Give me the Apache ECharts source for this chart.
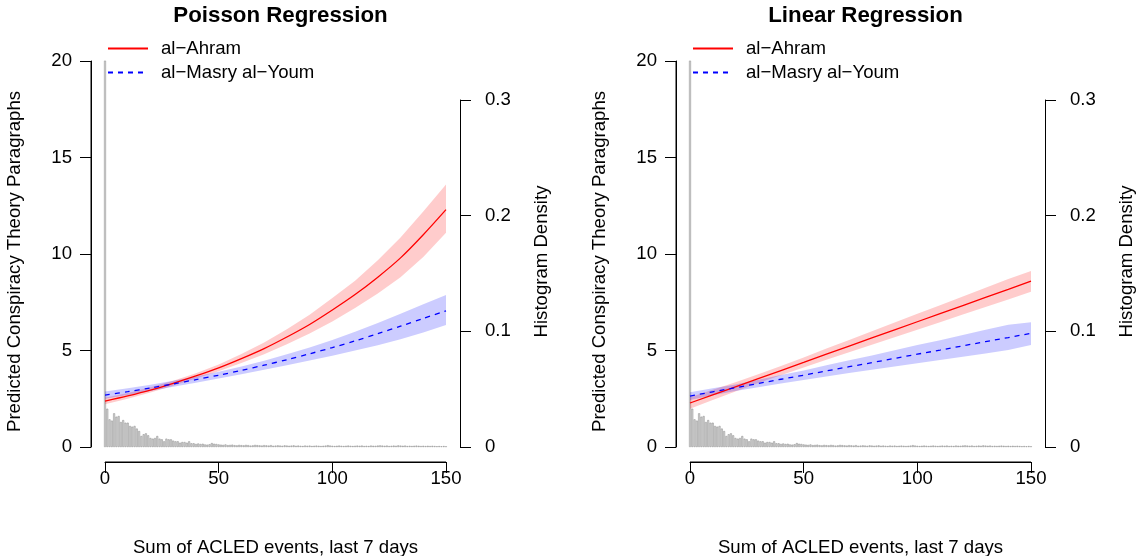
<!DOCTYPE html>
<html>
<head>
<meta charset="utf-8">
<script src="https://cdn.jsdelivr.net/npm/echarts@6/dist/echarts.min.js"></script>
<style>
html,body{margin:0;padding:0;background:#fff;}
#c{width:1143px;height:556px;}
</style>
</head>
<body>
<div id="c"></div>
<script>
// ---------------- data ----------------
const panelTitles = ['Poisson Regression', 'Linear Regression'];
const seriesNames = ['al\u2212Ahram', 'al\u2212Masry al\u2212Youm'];
const xTitle = 'Sum of ACLED events, last 7 days';
const yTitleLeft = 'Predicted Conspiracy Theory Paragraphs';
const yTitleRight = 'Histogram Density';

const xs = [0, 10, 20, 30, 40, 50, 60, 70, 80, 90, 100, 110, 120, 130, 140, 150];

// Poisson regression
const poisAhramMean = [2.38, 2.65, 2.95, 3.30, 3.68, 4.10, 4.58, 5.10, 5.70, 6.35, 7.10, 7.90, 8.80, 9.80, 11.0, 12.3];
const poisAhramLo   = [2.22, 2.50, 2.82, 3.18, 3.55, 3.93, 4.35, 4.80, 5.32, 5.88, 6.50, 7.20, 7.95, 8.80, 9.85, 11.1];
const poisAhramHi   = [2.55, 2.80, 3.09, 3.43, 3.82, 4.28, 4.82, 5.42, 6.10, 6.85, 7.72, 8.62, 9.68, 10.85, 12.2, 13.6];
const poisMasryMean = [2.69, 2.87, 3.06, 3.27, 3.49, 3.72, 3.97, 4.24, 4.52, 4.83, 5.15, 5.50, 5.87, 6.26, 6.66, 7.05];
const poisMasryLo   = [2.50, 2.70, 2.90, 3.12, 3.33, 3.55, 3.77, 4.00, 4.24, 4.48, 4.73, 5.00, 5.27, 5.58, 5.93, 6.32];
const poisMasryHi   = [2.88, 3.05, 3.23, 3.43, 3.65, 3.90, 4.17, 4.47, 4.80, 5.16, 5.55, 5.97, 6.42, 6.90, 7.40, 7.87];

// Linear regression
const linAhramMean = [2.28, 2.70, 3.12, 3.54, 3.96, 4.38, 4.81, 5.23, 5.65, 6.07, 6.49, 6.91, 7.33, 7.75, 8.17, 8.60];
const linAhramLo   = [1.98, 2.43, 2.88, 3.31, 3.72, 4.12, 4.52, 4.91, 5.30, 5.69, 6.08, 6.47, 6.86, 7.25, 7.64, 8.05];
const linAhramHi   = [2.58, 2.97, 3.36, 3.77, 4.20, 4.64, 5.10, 5.55, 6.00, 6.45, 6.90, 7.35, 7.80, 8.25, 8.70, 9.12];
const linMasryMean = [2.64, 2.86, 3.07, 3.29, 3.51, 3.72, 3.94, 4.16, 4.37, 4.59, 4.81, 5.02, 5.24, 5.46, 5.67, 5.89];
const linMasryLo   = [2.44, 2.68, 2.90, 3.10, 3.29, 3.47, 3.65, 3.83, 4.00, 4.17, 4.34, 4.51, 4.68, 4.85, 5.02, 5.28];
const linMasryHi   = [2.84, 3.04, 3.24, 3.48, 3.73, 3.97, 4.23, 4.49, 4.74, 5.01, 5.28, 5.53, 5.80, 6.07, 6.33, 6.46];

// histogram density of the events variable, bins 0..150
const histDensity = [
  0.334, 0.0331, 0.0239, 0.0228, 0.0291, 0.0262, 0.0268, 0.0216, 0.0233, 0.0210,
  0.0210, 0.0182, 0.0176, 0.0182, 0.0159, 0.0138, 0.0095, 0.0110, 0.0118, 0.0101,
  0.0078, 0.0072, 0.0078, 0.0095, 0.0072, 0.0066, 0.0049, 0.0072, 0.0066, 0.0066,
  0.0055, 0.0049, 0.0049, 0.0037, 0.0043, 0.0043, 0.0037, 0.0049, 0.0032, 0.0032,
  0.0026, 0.0030, 0.0026, 0.0028, 0.0022, 0.0020, 0.0024, 0.0034, 0.0028, 0.0026,
  0.0022, 0.0020, 0.0018, 0.0022, 0.0016, 0.0018, 0.0020, 0.0016, 0.0014, 0.0018,
  0.0016, 0.0014, 0.0018, 0.0016, 0.0012, 0.0014, 0.0018, 0.0016, 0.0014, 0.0012,
  0.0016, 0.0014, 0.0012, 0.0016, 0.0010, 0.0012, 0.0014, 0.0012, 0.0010, 0.0014,
  0.0012, 0.0010, 0.0012, 0.0014, 0.0010, 0.0012, 0.0010, 0.0008, 0.0012, 0.0010,
  0.0012, 0.0008, 0.0010, 0.0012, 0.0010, 0.0008, 0.0010, 0.0012, 0.0016, 0.0012,
  0.0010, 0.0008, 0.0010, 0.0012, 0.0010, 0.0008, 0.0010, 0.0012, 0.0010, 0.0008,
  0.0010, 0.0012, 0.0010, 0.0012, 0.0008, 0.0010, 0.0008, 0.0012, 0.0010, 0.0010,
  0.0012, 0.0014, 0.0012, 0.0010, 0.0012, 0.0008, 0.0010, 0.0012, 0.0010, 0.0014,
  0.0012, 0.0010, 0.0012, 0.0008, 0.0010, 0.0008, 0.0010, 0.0012, 0.0010, 0.0008,
  0.0010, 0.0008, 0.0010, 0.0008, 0.0010, 0.0008, 0.0006, 0.0008, 0.0006, 0.0008,
  0.0006
];

const xRange = [0, 150];
const yRangeLeft = [0, 20];
const yRangeRight = [0, 0.3];

// ---------------- chart ----------------
const FONT = '"Liberation Sans", Arial, Helvetica, sans-serif';
const FS = 18.6;
const RED = '#FF0000', BLUE = '#0000FF';
const chart = echarts.init(document.getElementById('c'), null, {renderer: 'canvas'});

const panelLeft = [105, 690];
const plotW = 341;
const topA = 61, hA = 386;   // 20 -> 61px, 0 -> 447px
const topB = 100, hB = 347;  // 0.3 -> 100px, 0 -> 447px
const pad = 14;              // R's 4% axis extension, in px

const grids = [], xAxes = [], yAxes = [], series = [], titles = [], legends = [];
const lineSt = () => ({color: '#000', width: 1});
const labelStyle = {color: '#000', fontSize: FS, fontFamily: FONT};
const hiddenValue = (g, mn, mx) => ({
  gridIndex: g, type: 'value', min: mn, max: mx,
  axisLine: {show: false, onZero: false}, axisTick: {show: false}, axisLabel: {show: false}, splitLine: {show: false}
});
const nameOnly = (g, pos, name, gap, rot) => Object.assign(hiddenValue(g, 0, 1), {
  position: pos, name: name, nameLocation: 'middle', nameGap: gap, nameRotate: rot, nameTextStyle: labelStyle
});

const panels = [
  {mean: [poisAhramMean, poisMasryMean], lo: [poisAhramLo, poisMasryLo], hi: [poisAhramHi, poisMasryHi]},
  {mean: [linAhramMean, linMasryMean], lo: [linAhramLo, linMasryLo], hi: [linAhramHi, linMasryHi]}
];

function bandSeries(xIdx, yIdx, lo, hi, color) {
  return {
    type: 'custom', xAxisIndex: xIdx, yAxisIndex: yIdx, z: 2, silent: true,
    data: xs.map((x, i) => [x, lo[i], hi[i]]),
    encode: {x: 0, y: [1, 2]},
    renderItem: function (params, api) {
      if (params.dataIndex !== 0) return null;
      const upper = xs.map((x, i) => api.coord([x, hi[i]]));
      const lower = xs.map((x, i) => api.coord([x, lo[i]])).reverse();
      return {type: 'polygon', shape: {points: upper.concat(lower)}, style: {fill: color}};
    }
  };
}

// axis line drawn along the tick range of an axis (R style)
function axisLineSeries(xIdx, yIdx, pts) {
  return {
    type: 'line', xAxisIndex: xIdx, yAxisIndex: yIdx, z: 10, silent: true, clip: false,
    symbol: 'none', lineStyle: {color: '#000', width: 1}, data: pts
  };
}

panels.forEach((p, k) => {
  const L = panelLeft[k];
  const g0 = grids.length;
  // g0 main plot, g1 histogram, g2 x axis, g3 left y axis, g4 right y axis, g5 axis titles
  grids.push({left: L, top: topA, width: plotW, height: hA});
  grids.push({left: L, top: topB, width: plotW, height: hB});
  grids.push({left: L, top: topA, width: plotW, height: hA + pad + 1});
  grids.push({left: L - pad, top: topA, width: plotW + pad, height: hA});
  grids.push({left: L, top: topB, width: plotW + pad, height: hB});
  grids.push({left: L - pad, top: topA, width: plotW + 2 * pad, height: hA + pad + 1, outerBoundsMode: 'none'});

  const xi = xAxes.length, yi = yAxes.length;
  // main
  xAxes.push(hiddenValue(g0, xRange[0], xRange[1]));
  yAxes.push(hiddenValue(g0, yRangeLeft[0], yRangeLeft[1]));
  // histogram
  xAxes.push(hiddenValue(g0 + 1, xRange[0], xRange[1]));
  yAxes.push(hiddenValue(g0 + 1, yRangeRight[0], yRangeRight[1]));
  // visible x axis
  xAxes.push({
    gridIndex: g0 + 2, type: 'value', min: xRange[0], max: xRange[1], interval: 50, position: 'bottom', z: 10,
    axisLine: {show: true, onZero: false, lineStyle: lineSt()},
    axisTick: {show: true, length: 11, lineStyle: lineSt()},
    axisLabel: Object.assign({margin: 7}, labelStyle),
    splitLine: {show: false}
  });
  yAxes.push(hiddenValue(g0 + 2, 0, 1));
  // visible left y axis
  xAxes.push(hiddenValue(g0 + 3, 0, 1));
  yAxes.push({
    gridIndex: g0 + 3, type: 'value', min: yRangeLeft[0], max: yRangeLeft[1], interval: 5, position: 'left', z: 10,
    axisLine: {show: true, onZero: false, lineStyle: lineSt()},
    axisTick: {show: true, length: 11, lineStyle: lineSt()},
    axisLabel: Object.assign({margin: 19}, labelStyle),
    splitLine: {show: false}
  });
  // visible right y axis
  xAxes.push(hiddenValue(g0 + 4, 0, 1));
  yAxes.push({
    gridIndex: g0 + 4, type: 'value', min: yRangeRight[0], max: yRangeRight[1], interval: 0.1, position: 'right', z: 10,
    axisLine: {show: true, onZero: false, lineStyle: lineSt()},
    axisTick: {show: true, length: 11, lineStyle: lineSt()},
    axisLabel: Object.assign({margin: 25}, labelStyle),
    splitLine: {show: false}
  });
  // axis titles
  xAxes.push(nameOnly(g0 + 5, 'bottom', xTitle, 76, 0));
  yAxes.push(nameOnly(g0 + 5, 'left', yTitleLeft, 67, 90));
  yAxes.push(nameOnly(g0 + 5, 'right', yTitleRight, 72, 90));

  // explicit axis lines over the tick ranges
  series.push(axisLineSeries(xi + 2, yi + 2, [[xRange[0], 0], [xRange[1], 0]]));
  series.push(axisLineSeries(xi + 3, yi + 3, [[0, yRangeLeft[0]], [0, yRangeLeft[1]]]));

  // histogram
  series.push({
    type: 'bar', xAxisIndex: xi + 1, yAxisIndex: yi + 1, z: 1, clip: false, silent: true,
    barWidth: plotW / 150 * 0.85,
    itemStyle: {color: '#D6D6D6', borderColor: '#8A8A8A', borderWidth: 0.5},
    data: histDensity.map((d, i) => [i, d])
  });

  const bandColors = ['rgba(255,0,0,0.2)', 'rgba(0,0,255,0.2)'];
  const lineColors = [RED, BLUE];
  const lineTypes = ['solid', [5, 5]];
  [0, 1].forEach(s => {
    series.push(bandSeries(xi, yi, p.lo[s], p.hi[s], bandColors[s]));
  });
  [0, 1].forEach(s => {
    series.push({
      name: seriesNames[s],
      type: 'line', xAxisIndex: xi, yAxisIndex: yi, z: 3, silent: true,
      symbol: 'none', smooth: k === 0 ? 0.3 : false,
      lineStyle: {color: lineColors[s], width: 1.3, type: lineTypes[s]},
      itemStyle: {color: lineColors[s]},
      data: xs.map((x, i) => [x, p.mean[s][i]])
    });
  });

  titles.push({
    text: panelTitles[k], left: L + plotW / 2, top: 0, textAlign: 'center',
    textStyle: {fontSize: 22.3, fontWeight: 'bold', color: '#000', fontFamily: FONT}
  });
  legends.push({
    data: seriesNames, orient: 'vertical', left: L + 2, top: 39, padding: 0,
    itemWidth: 40, itemHeight: 14, itemGap: 5, selectedMode: false,
    itemStyle: {opacity: 0},
    textStyle: {fontSize: FS, color: '#000', fontFamily: FONT, padding: [0, 0, 0, 8]}
  });
});

chart.setOption({
  animation: false,
  backgroundColor: '#fff',
  title: titles,
  legend: legends,
  grid: grids,
  xAxis: xAxes,
  yAxis: yAxes,
  series: series
});
</script>
</body>
</html>
